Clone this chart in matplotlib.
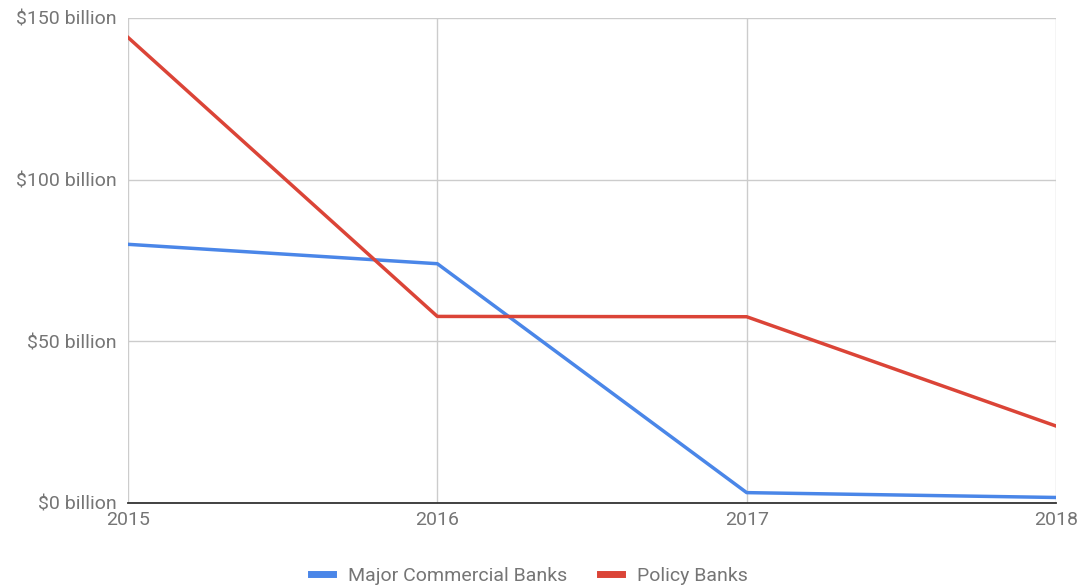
import numpy as np
import matplotlib.pyplot as plt

plt.rcParams['font.family'] = ['Roboto', 'DejaVu Sans']

years = [2015, 2016, 2017, 2018]
commercial = [80, 74, 3.2, 1.7]
policy = [144, 57.7, 57.6, 23.8]
yticks = [0, 50, 100, 150]
ytick_labels = ['$0 billion', '$50 billion', '$100 billion', '$150 billion']

fig = plt.figure(figsize=(10.81, 5.88), dpi=100)
ax = fig.add_axes([0.1184, 0.1446, 0.8585, 0.8248])

ax.plot(years, commercial, color='#4a86e8', lw=2.5, label='Major Commercial Banks', solid_joinstyle='round')
ax.plot(years, policy, color='#db4437', lw=2.5, label='Policy Banks', solid_joinstyle='round')

ax.set_xlim(2015, 2018)
ax.set_ylim(0, 150)
ax.set_xticks(years)
ax.set_yticks(yticks)
ax.set_yticklabels(ytick_labels)
ax.grid(color='#cccccc', lw=1)
ax.set_axisbelow(True)
for s in ['top', 'right', 'left']:
    ax.spines[s].set_visible(False)
ax.spines['bottom'].set_color('#333333')
ax.spines['bottom'].set_linewidth(1.3)
ax.tick_params(length=0, colors='#757575', labelsize=14)
ax.tick_params(axis='y', pad=8)
ax.tick_params(axis='x', pad=6)
for lab in ax.get_yticklabels():
    lab.set_verticalalignment('center_baseline')

fig.legend(loc='lower center', bbox_to_anchor=(0.49, -0.025), ncol=2, frameon=False,
           fontsize=14, labelcolor='#757575', handlelength=1.1, handletextpad=0.8,
           columnspacing=1.7)
for line in fig.legends[0].get_lines():
    line.set_linewidth(5)

fig.savefig('out.png', dpi=100)
